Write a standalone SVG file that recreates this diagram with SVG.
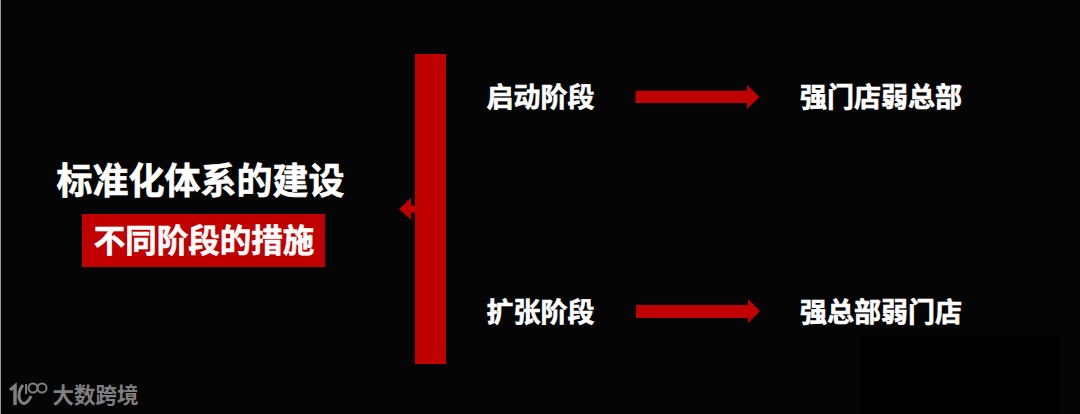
<svg xmlns="http://www.w3.org/2000/svg" width="1080" height="414" viewBox="0 0 1080 414">
<style>
text{font-family:"Noto Sans CJK SC","Noto Sans",sans-serif;font-weight:700;fill:#fff;stroke:#fff;stroke-width:.6;text-anchor:middle}
.red{fill:#c00000}
.label{font-size:27px}
.mark{fill:none;stroke:#7f7f7f;stroke-width:2}
</style>
<rect width="1080" height="414" fill="#050505"/>
<rect x="860" y="335" width="200" height="79" fill="#000"/>
<rect x="0" y="0" width="1" height="414" fill="#9a9a9a"/>
<g id="connectors">
<path class="red" d="M399 209L411 198V205.500H416V212.500H411V220Z"/>
<path class="red" d="M635.500 90.700H747V85L759.500 97L747 109V103H635.500Z"/>
<path class="red" d="M636 305H748V299L760 311L748 323V318H636Z"/>
</g>
<g id="spine"><rect class="red" x="415" y="54" width="31" height="310"/></g>
<g id="title"><text x="200.500" y="194" font-size="36">标准化体系的建设</text></g>
<g id="subtitle"><rect class="red" x="82" y="214" width="243" height="53"/><text x="204" y="252" font-size="31.500">不同阶段的措施</text></g>
<g id="stage-start"><text class="label" x="540.500" y="107">启动阶段</text></g>
<g id="result-start"><text class="label" x="881" y="107">强门店弱总部</text></g>
<g id="stage-expand"><text class="label" x="540.500" y="322">扩张阶段</text></g>
<g id="result-expand"><text class="label" x="881" y="322">强总部弱门店</text></g>
<g id="watermark">
<path class="mark" style="stroke-width:3.500" d="M10 390L15 386V405"/>
<path class="mark" style="stroke-width:3" d="M23 385C18 391 18 398 21 402C24 405 28 403 31 396"/>
<path class="mark" d="M26 384V394"/>
<circle class="mark" cx="33" cy="388" r="4.500"/><circle class="mark" cx="42" cy="388" r="4.500"/>
<text x="95.500" y="402.500" font-size="21.500" style="fill:#7f7f7f;stroke:none">大数跨境</text>
</g>
</svg>
